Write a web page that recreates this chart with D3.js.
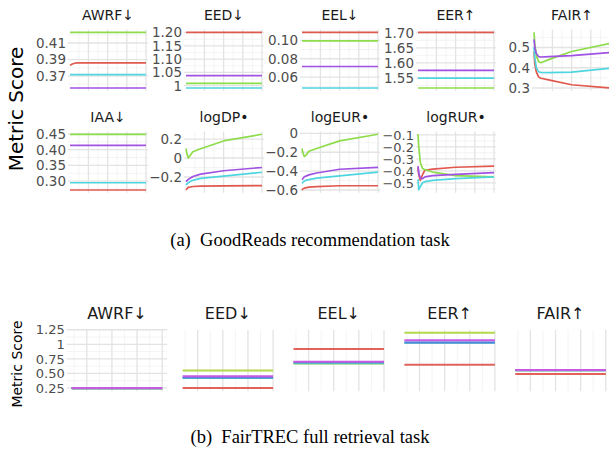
<!DOCTYPE html>
<html>
<head>
<meta charset="utf-8">
<script src="https://cdn.jsdelivr.net/npm/d3@7"></script>
<style>
  body { margin: 0; background: #fff; }
  svg { display: block; }
</style>
</head>
<body>
<svg id="chart" width="609" height="466"></svg>
<script>

// ---------- (a) GoodReads: 4 runs, 9 metrics ----------
var grMetrics = ["AWRF↓", "EED↓", "EEL↓", "EER↑", "FAIR↑", "IAA↓", "logDP•", "logEUR•", "logRUR•"];
var kSteps = [1, 2, 4, 7, 10, 20, 50, 100];
var kFlat = [1, 100];

var grRed = [
  [0.383, 0.3835, 0.3845, 0.3855, 0.386, 0.386, 0.386, 0.386],
  [1.201, 1.201],
  [0.1087, 0.1087],
  [1.702, 1.702],
  [0.48, 0.42, 0.38, 0.355, 0.348, 0.34, 0.316, 0.30],
  [0.272, 0.272],
  [-0.337, -0.325, -0.31, -0.305, -0.30, -0.297, -0.293, -0.29],
  [-0.60, -0.59, -0.58, -0.575, -0.57, -0.565, -0.555, -0.555],
  [-0.37, -0.43, -0.48, -0.43, -0.395, -0.385, -0.37, -0.36]
];
var grGreen = [
  [0.423, 0.423],
  [1.009, 1.009],
  [0.0993, 0.0993],
  [1.516, 1.516],
  [0.575, 0.52, 0.46, 0.43, 0.425, 0.44, 0.48, 0.52],
  [0.449, 0.449],
  [0.10, 0.05, 0.0, 0.035, 0.066, 0.097, 0.18, 0.25],
  [-0.16, -0.2, -0.245, -0.225, -0.19, -0.16, -0.08, -0.01],
  [-0.095, -0.2, -0.33, -0.38, -0.39, -0.41, -0.44, -0.45]
];
var grCyan = [
  [0.3716, 0.3716],
  [0.9913, 0.9913],
  [0.0483, 0.0483],
  [1.549, 1.549],
  [0.50, 0.45, 0.40, 0.38, 0.377, 0.376, 0.378, 0.397],
  [0.295, 0.295],
  [-0.284, -0.275, -0.26, -0.245, -0.235, -0.215, -0.19, -0.15],
  [-0.53, -0.52, -0.505, -0.495, -0.49, -0.475, -0.45, -0.41],
  [-0.47, -0.56, -0.53, -0.50, -0.49, -0.48, -0.465, -0.45]
];
var grPurple = [
  [0.3555, 0.3555],
  [1.038, 1.038],
  [0.0716, 0.0716],
  [1.575, 1.575],
  [0.54, 0.50, 0.47, 0.455, 0.453, 0.455, 0.46, 0.475],
  [0.414, 0.414],
  [-0.25, -0.24, -0.225, -0.21, -0.195, -0.17, -0.134, -0.10],
  [-0.49, -0.48, -0.46, -0.45, -0.44, -0.42, -0.38, -0.36],
  [-0.36, -0.42, -0.46, -0.465, -0.45, -0.44, -0.43, -0.415]
];
var grTicks = [
  [0.37, 0.39, 0.41],
  [1, 1.05, 1.1, 1.15, 1.2],
  [0.06, 0.08, 0.10],
  [1.55, 1.6, 1.65, 1.7],
  [0.3, 0.4, 0.5],
  [0.3, 0.35, 0.4, 0.45],
  [-0.2, 0, 0.2],
  [-0.6, -0.4, -0.2, 0],
  [-0.5, -0.4, -0.3, -0.2, -0.1]
];
var grTickLabels = [
  ["0.37", "0.39", "0.41"],
  ["1", "1.05", "1.10", "1.15", "1.20"],
  ["0.06", "0.08", "0.10"],
  ["1.55", "1.60", "1.65", "1.70"],
  ["0.3", "0.4", "0.5"],
  ["0.30", "0.35", "0.40", "0.45"],
  ["\u22120.2", "0", "0.2"],
  ["\u22120.6", "\u22120.4", "\u22120.2", "0"],
  ["\u22120.5", "\u22120.4", "\u22120.3", "\u22120.2", "\u22120.1"]
];

// ---------- (b) FairTREC: 5 runs, 5 metrics ----------
var trecMetrics = ["AWRF↓", "EED↓", "EEL↓", "EER↑", "FAIR↑"];
var trecRed    = [0.245, 0.25, 0.92, 0.65, 0.49];
var trecLime   = [0.24, 0.55, 0.67, 1.198, 0.555];
var trecTeal   = [0.245, 0.42, 0.675, 1.025, 0.555];
var trecBlue   = [0.245, 0.43, 0.69, 1.03, 0.555];
var trecPurple = [0.25, 0.452, 0.70, 1.068, 0.56];
var trecTicks = [0.25, 0.5, 0.75, 1, 1.25];
var trecTickLabels = ["0.25", "0.50", "0.75", "1", "1.25"];
var xBreaks = [25, 50, 75, 100];

var colA = ["#e0584e", "#8edc4b", "#4fd5df", "#a052e2"];
var colB = ["#e0625a", "#b3d84a", "#4fd0ae", "#4f80e2", "#c65ae2"];

var svg = d3.select("#chart");
var FONT = "DejaVu Sans, sans-serif";

function expand(ext, f) {
  var d = ext[1] - ext[0];
  return [ext[0] - d * f, ext[1] + d * f];
}

function minors(br, dom) {
  var step = br[1] - br[0];
  var out = br.map(function(b) { return b - step / 2; });
  out.push(br[br.length - 1] + step / 2);
  return out.filter(function(v) { return v > dom[0] && v < dom[1]; });
}

// o: gx0, gx1 (grid box), lx0, lx1 (data x range), top, bottom, xDomain, yDomain,
//    ticks, labels, lines [{x, y, color}], title, titleSize, tickSize, lw
function panel(o) {
  var g = svg.append("g");
  var x = d3.scaleLinear().domain(o.xDomain).range([o.lx0, o.lx1]);
  var y = d3.scaleLinear().domain(o.yDomain).range([o.bottom, o.top]);
  var xDom = [x.invert(o.gx0), x.invert(o.gx1)];

  // grid: minor then major
  g.selectAll(".ymin").data(minors(o.ticks, o.yDomain)).enter().append("line")
    .attr("x1", o.gx0).attr("x2", o.gx1)
    .attr("y1", function(d) { return y(d); }).attr("y2", function(d) { return y(d); })
    .attr("stroke", "#efefef").attr("stroke-width", 0.7);
  g.selectAll(".xmin").data(minors(xBreaks, xDom)).enter().append("line")
    .attr("y1", o.top).attr("y2", o.bottom)
    .attr("x1", function(d) { return x(d); }).attr("x2", function(d) { return x(d); })
    .attr("stroke", "#efefef").attr("stroke-width", 0.7);
  g.selectAll(".ymaj").data(o.ticks).enter().append("line")
    .attr("x1", o.gx0).attr("x2", o.gx1)
    .attr("y1", function(d) { return y(d); }).attr("y2", function(d) { return y(d); })
    .attr("stroke", "#e3e3e3").attr("stroke-width", 1.3);
  g.selectAll(".xmaj").data(xBreaks.filter(function(d) { return d >= xDom[0] && d <= xDom[1]; }))
    .enter().append("line")
    .attr("y1", o.top).attr("y2", o.bottom)
    .attr("x1", function(d) { return x(d); }).attr("x2", function(d) { return x(d); })
    .attr("stroke", "#e3e3e3").attr("stroke-width", 1.3);

  // tick labels
  g.selectAll(".tl").data(o.ticks).enter().append("text")
    .attr("x", o.gx0 - 2)
    .attr("y", function(d) { return y(d); })
    .attr("dy", "0.36em")
    .attr("text-anchor", "end")
    .style("font-family", FONT).style("font-size", o.tickSize + "px")
    .style("fill", "#4d4d4d")
    .text(function(d, i) { return o.labels[i]; });

  // series
  var line = d3.line().x(function(d) { return x(d[0]); }).y(function(d) { return y(d[1]); });
  o.lines.forEach(function(s) {
    g.append("path")
      .datum(d3.zip(s.x, s.y))
      .attr("d", line)
      .attr("fill", "none")
      .attr("stroke", s.color)
      .attr("stroke-width", o.lw)
      .attr("stroke-linejoin", "round");
  });

  // strip title
  g.append("text")
    .attr("x", (o.gx0 + o.gx1) / 2)
    .attr("y", o.top - o.titleGap)
    .attr("text-anchor", "middle")
    .style("font-family", FONT).style("font-size", o.titleSize + "px")
    .style("fill", "#1a1a1a")
    .text(o.title);
}

// ----- draw (a) -----
var rowTops = [29.5, 131.5];
var plotH = 61.3;
grMetrics.forEach(function(m, i) {
  var col = i < 5 ? i : i - 5;
  var row = i < 5 ? 0 : 1;
  var lx0 = 70 + col * 116;
  var series = [grRed[i], grGreen[i], grCyan[i], grPurple[i]];
  var ext = d3.extent(d3.merge(series));
  panel({
    gx0: lx0 - 2, gx1: lx0 + 78, lx0: lx0, lx1: lx0 + 76,
    top: rowTops[row], bottom: rowTops[row] + plotH,
    xDomain: [1, 100], yDomain: expand(ext, 0.05),
    ticks: grTicks[i], labels: grTickLabels[i],
    lines: series.map(function(v, j) {
      return { x: v.length === 2 ? kFlat : kSteps, y: v, color: colA[j] };
    }),
    title: m, titleSize: 14, titleGap: 9.5, tickSize: i === 8 ? 13 : 13.5, lw: 1.7
  });
});

svg.append("text")
  .attr("transform", "translate(23,109) rotate(-90)")
  .attr("text-anchor", "middle")
  .style("font-family", FONT).style("font-size", "20px").style("fill", "#000")
  .text("Metric Score");

svg.append("text")
  .attr("x", 310).attr("y", 246)
  .attr("text-anchor", "middle")
  .style("font-family", "Liberation Serif, serif").style("font-size", "18.5px")
  .style("white-space", "pre")
  .text("(a)  GoodReads recommendation task");

// ----- draw (b) -----
var trecRuns = [trecRed, trecLime, trecTeal, trecBlue, trecPurple];
var trecExt = d3.extent(d3.merge(trecRuns));
var trecY = expand(trecExt, 0.05);
trecMetrics.forEach(function(m, i) {
  var gx0 = 66.7 + i * 110.9;
  panel({
    gx0: gx0, gx1: gx0 + 100.5, lx0: gx0 + 5, lx1: gx0 + 95.5,
    top: 330, bottom: 391.3,
    xDomain: [10, 100], yDomain: trecY,
    ticks: i === 0 ? trecTicks : [], labels: trecTickLabels,
    lines: trecRuns.map(function(r, j) {
      return { x: [10, 100], y: [r[i], r[i]], color: colB[j] };
    }),
    title: m, titleSize: 16, titleGap: 11, tickSize: 13, lw: 2
  });
});

svg.append("text")
  .attr("transform", "translate(22,364) rotate(-90)")
  .attr("text-anchor", "middle")
  .style("font-family", FONT).style("font-size", "14px").style("fill", "#000")
  .text("Metric Score");

svg.append("text")
  .attr("x", 310).attr("y", 443)
  .attr("text-anchor", "middle")
  .style("font-family", "Liberation Serif, serif").style("font-size", "18.5px")
  .style("white-space", "pre")
  .text("(b)  FairTREC full retrieval task");

</script>
</body>
</html>
